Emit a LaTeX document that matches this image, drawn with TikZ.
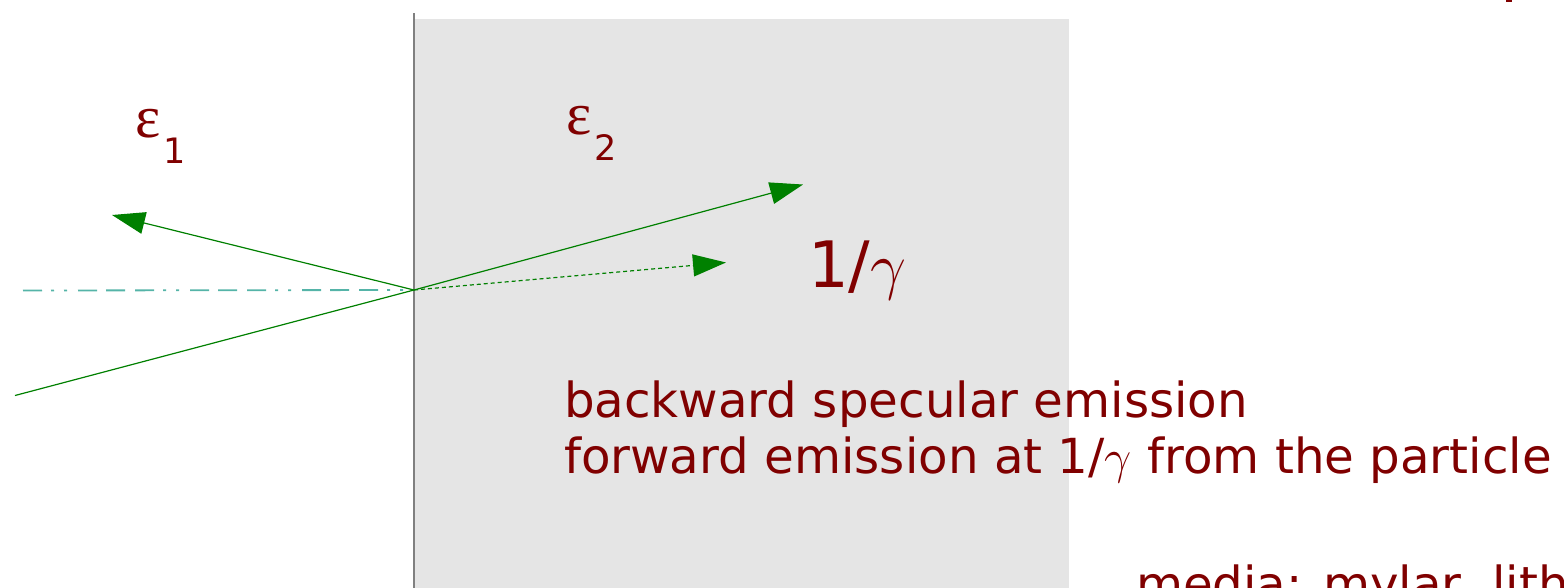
\RequirePackage{fix-cm}
\documentclass[tikz,border=0pt]{standalone}
\usepackage{fontspec}
\setmainfont{DejaVu Sans}
\newfontfamily\epsfont{Liberation Serif}
\usetikzlibrary{arrows.meta}
\definecolor{txtred}{RGB}{128,0,0}
\definecolor{raygreen}{RGB}{0,128,0}
\definecolor{axisteal}{RGB}{85,180,168}
\definecolor{mediumgray}{RGB}{229,229,229}
\definecolor{wallgray}{RGB}{128,128,128}
\begin{document}
\begin{tikzpicture}[x=1pt,y=-1pt,
  ray/.style={draw=raygreen, line width=1.2pt},
  arrowray/.style={ray, -{Triangle[length=33pt,width=22pt]}, raygreen},
  lbl/.style={text=txtred, inner sep=0pt, outer sep=0pt, anchor=base west},
  bigtxt/.style={lbl, font=\fontsize{48.3pt}{56pt}\selectfont},
  epstxt/.style={lbl, font=\epsfont\fontsize{60pt}{60pt}\selectfont},
  subtxt/.style={lbl, font=\fontsize{35pt}{35pt}\selectfont},
]
\useasboundingbox (0,0) rectangle (1564,587);
\clip (0,0) rectangle (1564,587);
% medium
\fill[mediumgray] (415,19) rectangle (1069,600);
% interface
\coordinate (wtop) at (414,13);
\coordinate (wbot) at (414,600);
\draw[wallgray, line width=1.5pt] (wtop) -- (wbot);
% points
\coordinate (O) at (414,290);
\coordinate (axstart) at (23,290.5);
\coordinate (inc) at (15,395.5);
\coordinate (back) at (112,215);
\coordinate (fwd) at (803,184.5);
\coordinate (part) at (726,262.5);
% axis
\draw[axisteal, line width=1.8pt,
  dash pattern=on 19pt off 9pt on 3pt off 10pt on 3pt off 11pt on 19pt off 9pt on 19pt off 10pt]
  (axstart) -- (O);
% rays
\draw[ray] (inc) -- (O);
\draw[arrowray] (O) -- (back);
\draw[arrowray] (O) -- (fwd);
\draw[arrowray, dash pattern=on 4pt off 3pt] (O) -- (part);
% labels
\node[epstxt] (e1) at (135,137) {ε};
\node[subtxt] (s1) at (163,163) {1};
\node[epstxt] (e2) at (566,134) {ε};
\node[subtxt] (s2) at (594,160) {2};
\node[lbl, font=\fontsize{64pt}{64pt}\selectfont] (g) at (808,287) {1/$\gamma$};
\node[bigtxt] (l1) at (564,417) {backward specular emission};
\node[bigtxt] (l2) at (564,473) {forward emission at 1/$\gamma$ from the particle};
\node[bigtxt] (l3) at (1136,601) {media: mylar, lithium};
% cut-off mark at top right
\fill[txtred] (1506,-2) rectangle (1512,2);
\end{tikzpicture}
\end{document}
